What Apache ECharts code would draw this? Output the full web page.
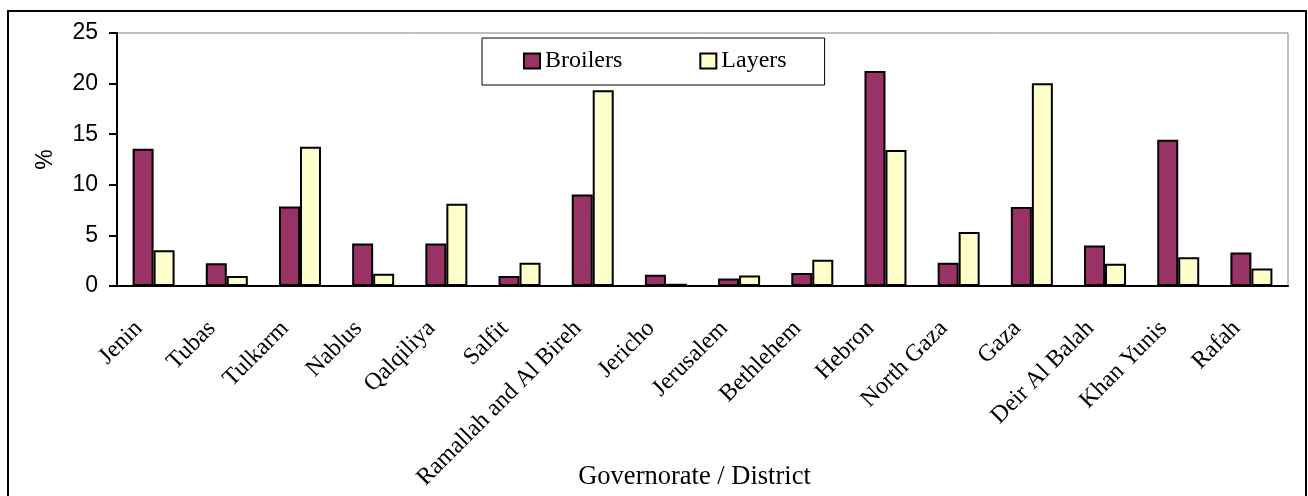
<!DOCTYPE html>
<html>
<head>
<meta charset="utf-8">
<script src="https://cdn.jsdelivr.net/npm/echarts@6/dist/echarts.min.js"></script>
<style>
  html, body { margin: 0; padding: 0; background: #fff; }
  #chart { width: 1308px; height: 496px; }
</style>
</head>
<body>
<div id="chart"></div>
<script>
const districts = ['Jenin', 'Tubas', 'Tulkarm', 'Nablus', 'Qalqiliya', 'Salfit', 'Ramallah and Al Bireh',
  'Jericho', 'Jerusalem', 'Bethlehem', 'Hebron', 'North Gaza', 'Gaza', 'Deir Al Balah', 'Khan Yunis', 'Rafah']
const broilers = [13.55, 2.25, 7.85, 4.2, 4.2, 1.0, 9.05, 1.12, 0.73, 1.28, 21.25, 2.3, 7.8, 4.0, 14.45, 3.3]
const layers = [3.53, 0.98, 13.75, 1.22, 8.13, 2.3, 19.35, 0.22, 1.03, 2.6, 13.45, 5.33, 20.03, 2.2, 2.84, 1.74]

const serif = 'Liberation Serif'
const sans = 'Liberation Sans'

const chart = echarts.init(document.getElementById('chart'))
chart.setOption({
  animation: false,
  graphic: [
    {
      type: 'rect',
      z: -10,
      shape: { x: 8, y: 11, width: 1298, height: 520 },
      style: { fill: 'none', stroke: '#000', lineWidth: 2 }
    }
  ],
  grid: {
    left: 117,
    top: 33,
    right: 20,
    bottom: 210,
    show: true,
    borderColor: '#808080',
    borderWidth: 1,
    outerBoundsMode: 'none'
  },
  legend: {
    data: ['Broilers', 'Layers'],
    icon: 'rect',
    left: 482,
    top: 38,
    padding: [11, 38, 12, 41],
    itemWidth: 16,
    itemHeight: 15,
    itemGap: 77,
    borderColor: '#000',
    borderWidth: 1,
    backgroundColor: '#fff',
    textStyle: { fontFamily: serif, fontSize: 24, color: '#000' }
  },
  xAxis: {
    type: 'category',
    data: districts,
    name: 'Governorate / District',
    nameLocation: 'middle',
    nameGap: 178,
    nameMoveOverlap: false,
    nameTextStyle: { fontFamily: serif, fontSize: 26.5, color: '#000', padding: [0, 16, 0, 0] },
    axisLine: { lineStyle: { color: '#000', width: 2 } },
    axisTick: { length: 8, lineStyle: { color: '#000', width: 2 } },
    axisLabel: {
      interval: 0,
      rotate: 45,
      margin: 24,
      padding: [0, 21, 0, 0],
      fontFamily: serif,
      fontSize: 24,
      color: '#000'
    }
  },
  yAxis: {
    type: 'value',
    min: 0,
    max: 25,
    interval: 5,
    name: '%',
    nameLocation: 'middle',
    nameRotate: 90,
    nameGap: 60,
    nameTextStyle: { fontFamily: sans, fontSize: 23, color: '#000' },
    axisLine: { show: true, lineStyle: { color: '#000', width: 2 } },
    axisTick: { show: true, length: 8, lineStyle: { color: '#000', width: 2 } },
    axisLabel: { margin: 19, fontFamily: sans, fontSize: 23, color: '#000' },
    splitLine: { show: false }
  },
  series: [
    {
      name: 'Broilers',
      type: 'bar',
      data: broilers,
      barWidth: 21,
      barGap: '0%',
      itemStyle: { color: '#993366', borderColor: '#000', borderWidth: 2 }
    },
    {
      name: 'Layers',
      type: 'bar',
      data: layers,
      barWidth: 21,
      itemStyle: { color: '#FFFFCC', borderColor: '#000', borderWidth: 2 }
    }
  ]
})
</script>
</body>
</html>
